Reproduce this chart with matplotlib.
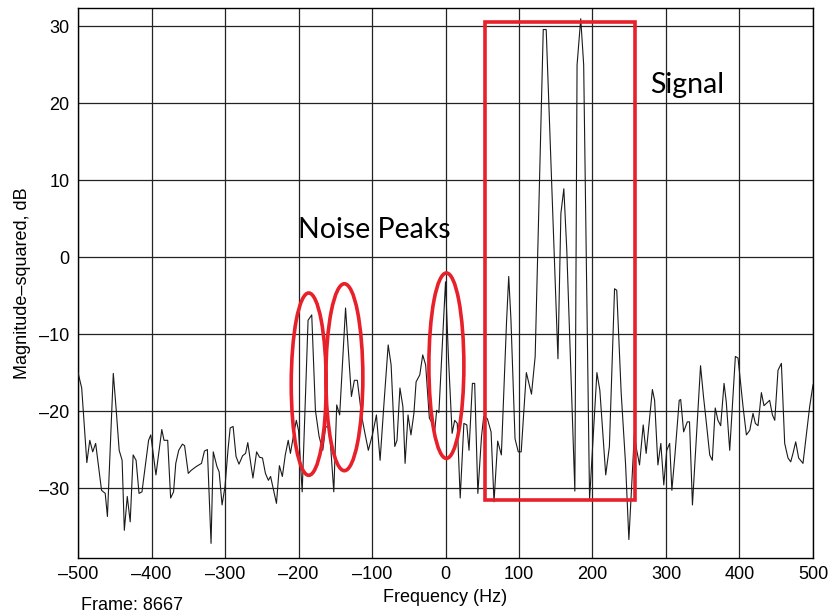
import matplotlib
matplotlib.use("Agg")
import matplotlib.pyplot as plt
from matplotlib.patches import Ellipse, Rectangle

# Spectrum of one frame: frequency (Hz) and magnitude-squared (dB)
freq_hz = [
    -500, -495, -488, -484, -480, -476, -468, -463, -460, -452, -448, -444, -440,
    -437, -433, -429, -425, -421, -417, -413, -408, -404, -401, -394, -386, -383,
    -378, -374, -370, -367, -363, -358, -355, -350, -346, -339, -332, -328, -324,
    -319, -316, -311, -308, -304, -300, -296, -293, -289, -285, -281, -276, -272,
    -269, -265, -262, -257, -253, -249, -245, -241, -238, -230, -226, -222, -218,
    -214, -211, -206, -203, -200, -195, -187, -182, -177, -172, -167, -163, -158,
    -152, -148, -144, -136, -128, -124, -120, -114, -110, -105, -99, -94, -89,
    -84, -78, -74, -69, -66, -62, -58, -55, -51, -47, -43, -40, -35, -31, -27,
    -22, -18, -15, -12, -9, 0, 4, 9, 12.5, 16, 20, 25, 29, 32, 36.6, 39.7, 44,
    49, 52, 57, 62, 66, 71, 76, 83, 86, 89, 94.6, 99, 103, 110, 117, 122, 133,
    137, 153, 157, 161, 165, 176, 179, 184, 188, 196, 206, 210, 218, 223, 230,
    233, 239, 245, 249.5, 257, 260, 264, 269, 273, 281.5, 284.5, 289, 293, 297,
    301, 305, 308, 312, 318, 320, 324, 329, 332, 336, 347, 351, 355, 359.5, 363,
    367, 370.7, 374.4, 379, 382, 386.7, 394.4, 398, 404.8, 409.4, 414, 418.4,
    421.6, 425.2, 429.8, 433.3, 441, 444.8, 448, 452.4, 457, 461.5, 466, 469.7,
    472.8, 476.5, 480.5, 486.4, 495.5, 500,
]
power_db = [
    -15.0, -17.0, -26.7, -23.8, -25.3, -24.2, -30.3, -30.7, -33.7, -15.1, -19.9, -25.1, -26.4,
    -35.5, -31.1, -34.4, -25.7, -26.4, -30.7, -30.5, -26.8, -23.8, -23.1, -28.3, -22.4, -23.8,
    -23.8, -31.3, -30.5, -26.8, -25.1, -24.3, -24.5, -28.1, -27.7, -27.2, -26.8, -25.2, -25.0,
    -37.2, -25.3, -27.2, -27.9, -32.2, -29.8, -25.1, -22.2, -22.0, -25.9, -26.9, -25.8, -25.5,
    -24.1, -26.8, -28.7, -25.3, -26.0, -26.1, -28.1, -29.0, -28.5, -32.0, -27.1, -28.5, -25.7,
    -23.8, -25.5, -22.7, -21.2, -22.5, -30.5, -8.2, -7.5, -19.9, -23.3, -25.1, -22.0, -22.2,
    -30.5, -19.2, -20.5, -6.6, -18.1, -16.0, -16.0, -20.7, -22.7, -25.1, -22.9, -20.5, -26.4,
    -19.4, -11.4, -14.0, -24.6, -23.8, -17.0, -19.4, -26.8, -20.5, -23.1, -20.3, -16.2, -15.3, -12.7, -14.0,
    -20.9, -21.6, -22.9, -19.9, -20.2, -3.2, -13.0, -22.9, -21.2, -21.6, -31.3, -21.6, -21.8, -25.1, -16.4, -16.4, -30.7,
    -23.3, -20.7, -21.0, -22.7, -31.8, -23.9, -25.7, -8.5, -2.5, -8.0, -23.6, -25.3, -25.3, -15.0, -17.8, -12.9, 29.6,
    29.6, -13.2, 5.7, 8.9, 1.0, -30.4, 25.0, 31.0, 25.0, -31.5, -15.0, -17.3, -28.3, -24.6, -4.1,
    -4.3, -17.6, -26.9, -36.7, -22.9, -25.0, -27.0, -21.8, -25.5, -17.2, -18.6, -27.0, -24.2, -29.6,
    -25.1, -24.2, -30.3, -25.9, -18.6, -18.5, -22.7, -21.4, -21.4, -32.2, -14.1, -18.1, -21.6, -25.7, -26.4,
    -19.6, -21.2, -21.9, -16.4, -18.8, -25.1, -12.9, -13.1, -19.4, -23.1, -22.5, -20.3,
    -21.6, -21.9, -17.6, -19.3, -18.6, -20.5, -21.2, -14.7, -13.8, -24.2, -26.1, -26.6,
    -25.5, -24.0, -26.1, -26.8, -19.4, -16.6,
]

x_ticks = [-500, -400, -300, -200, -100, 0, 100, 200, 300, 400, 500]
y_ticks = [-30, -20, -10, 0, 10, 20, 30]

axis_font = ["Liberation Sans Narrow", "Liberation Sans", "DejaVu Sans"]
note_font = ["Lato", "Open Sans", "DejaVu Sans"]

fig = plt.figure(figsize=(8.30, 6.14), dpi=100)
ax = fig.add_axes([0.094, 0.0912, 0.8855, 0.8958])

ax.plot(freq_hz, power_db, color="#1a1a1a", linewidth=0.8, zorder=3)

ax.set_xlim(-500, 500)
ax.set_ylim(-39.1, 32.4)
ax.set_xticks(x_ticks)
ax.set_yticks(y_ticks)
ax.set_xticklabels([str(v).replace("-", "\u2013") for v in x_ticks],
                   family=axis_font, fontsize=13)
ax.set_yticklabels([str(v).replace("-", "\u2013") for v in y_ticks],
                   family=axis_font, fontsize=13)
ax.tick_params(length=0, pad=6)
ax.grid(True, color="#222222", linewidth=0.9)
ax.set_axisbelow(True)
for sp in ax.spines.values():
    sp.set_color("black")
    sp.set_linewidth(1.0)

ax.set_xlabel("Frequency (Hz)", family=axis_font, fontsize=13, labelpad=4)
ax.set_ylabel("Magnitude\u2013squared, dB", family=axis_font, fontsize=13, labelpad=6)
fig.text(0.097, 0.0, "Frame: 8667", family=axis_font, fontsize=13, ha="left", va="bottom")

# Highlight the noise peaks and the signal band
red = "#e8202a"
for cx, cy, w, h in [(-186.1, -16.5, 47.6, 23.7),
                     (-137.6, -15.6, 50.3, 24.3),
                     (1.2, -14.1, 47.6, 24.1)]:
    ax.add_patch(Ellipse((cx, cy), w, h, fill=False, edgecolor=red,
                         linewidth=2.6, zorder=4))
ax.add_patch(Rectangle((54.3, -31.6), 204.1, 62.2, fill=False, edgecolor=red,
                       linewidth=2.6, zorder=4))

ax.text(-201, 3.5, "Noise Peaks", family=note_font, fontsize=20.5,
        ha="left", va="center", zorder=5)
ax.text(278, 22.4, "Signal", family=note_font, fontsize=20.5,
        ha="left", va="center", zorder=5)

fig.savefig("out.png", dpi=100)
